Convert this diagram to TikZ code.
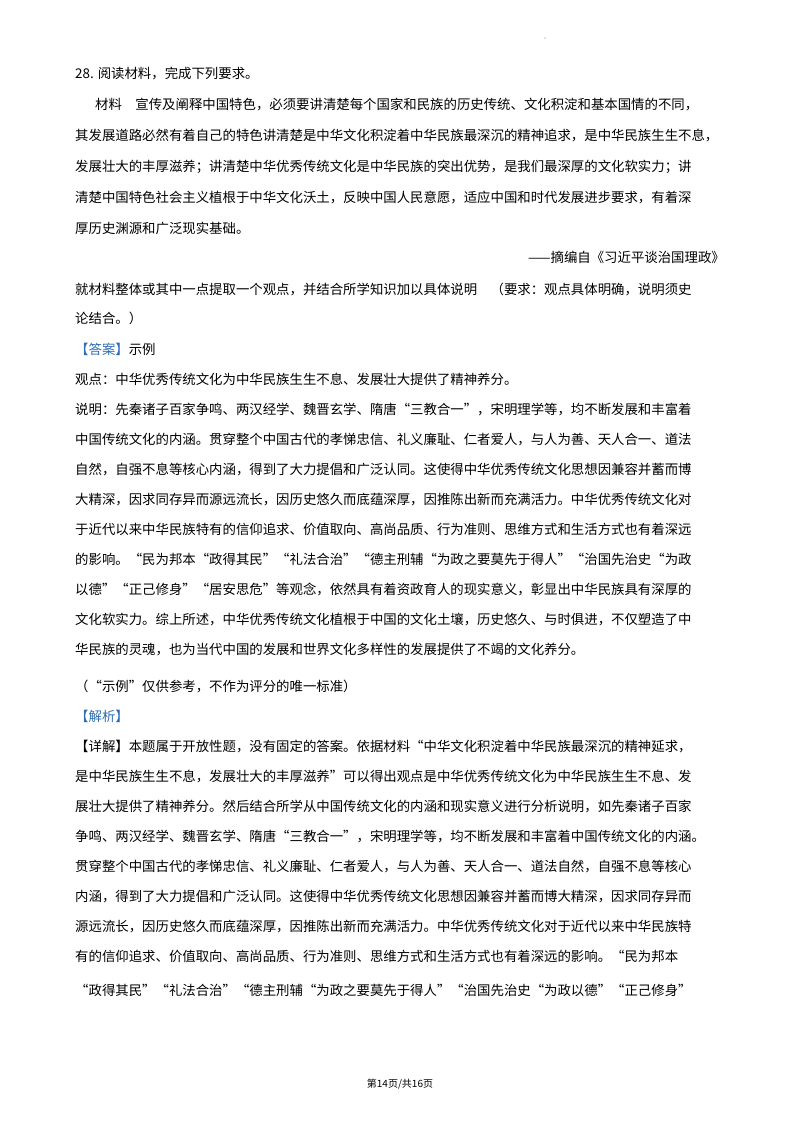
\documentclass[tikz,border=0pt]{standalone}
\usepackage{fontspec}
\setmainfont{Noto Sans CJK SC}
\XeTeXlinebreaklocale "zh"
\XeTeXlinebreakskip=0pt plus 3pt minus 0.6pt
\definecolor{ansblue}{HTML}{2E6DB4}
\tikzset{ln/.style={anchor=base west,inner sep=0pt,font=\fontsize{13.4pt}{16pt}\selectfont}}
\newcommand{\J}[4][650]{\node[ln] (#2) at (#3) {\makebox[#1pt][s]{#4}};}
\newcommand{\U}[3]{\node[ln] (#1) at (#2) {#3};}
\begin{document}
\begin{tikzpicture}[x=1pt,y=-1pt]
\useasboundingbox (0,0) rectangle (800,1132);
\fill[gray] (545,38) circle (0.6);
\U{l1}{75,78}{28. 阅读材料，完成下列要求。}
\J[630]{m1}{95,109}{材料\hspace{1em}宣传及阐释中国特色，必须要讲清楚每个国家和民族的历史传统、文化积淀和基本国情的不同，}
\J{m2}{75,140}{其发展道路必然有着自己的特色讲清楚是中华文化积淀着中华民族最深沉的精神追求，是中华民族生生不息，}
\J{m3}{75,171}{发展壮大的丰厚滋养；讲清楚中华优秀传统文化是中华民族的突出优势，是我们最深厚的文化软实力；讲}
\J{m4}{75,202}{清楚中国特色社会主义植根于中华文化沃土，反映中国人民意愿，适应中国和时代发展进步要求，有着深}
\U{m5}{75,233}{厚历史渊源和广泛现实基础。}
\node[ln,anchor=base east] (src) at (725,262) {——摘编自《习近平谈治国理政》};
\J{q1}{75,294}{就材料整体或其中一点提取一个观点，并结合所学知识加以具体说明\hspace{1em}（要求：观点具体明确，说明须史}
\U{q2}{75,323}{论结合。）}
\U{a0}{75,354}{\textcolor{ansblue}{【答案】}示例}
\U{a1}{75,384}{观点：中华优秀传统文化为中华民族生生不息、发展壮大提供了精神养分。}
\J{b1}{75,414}{说明：先秦诸子百家争鸣、两汉经学、魏晋玄学、隋唐“三教合一”，宋明理学等，均不断发展和丰富着}
\J{b2}{75,444}{中国传统文化的内涵。贯穿整个中国古代的孝悌忠信、礼义廉耻、仁者爱人，与人为善、天人合一、道法}
\J{b3}{75,474}{自然，自强不息等核心内涵，得到了大力提倡和广泛认同。这使得中华优秀传统文化思想因兼容并蓄而博}
\J{b4}{75,504}{大精深，因求同存异而源远流长，因历史悠久而底蕴深厚，因推陈出新而充满活力。中华优秀传统文化对}
\J{b5}{75,534}{于近代以来中华民族特有的信仰追求、价值取向、高尚品质、行为准则、思维方式和生活方式也有着深远}
\J{b6}{75,564}{的影响。“民为邦本“政得其民”“礼法合治”“德主刑辅“为政之要莫先于得人”“治国先治史“为政}
\J{b7}{75,594}{以德”“正己修身”“居安思危”等观念，依然具有着资政育人的现实意义，彰显出中华民族具有深厚的}
\J{b8}{75,624}{文化软实力。综上所述，中华优秀传统文化植根于中国的文化土壤，历史悠久、与时俱进，不仅塑造了中}
\U{b9}{75,654}{华民族的灵魂，也为当代中国的发展和世界文化多样性的发展提供了不竭的文化养分。}
\U{c1}{75,691}{（“示例”仅供参考，不作为评分的唯一标准）}
\U{c2}{75,721}{\textcolor{ansblue}{【解析】}}
\J{d1}{75,751}{【详解】本题属于开放性题，没有固定的答案。依据材料“中华文化积淀着中华民族最深沉的精神延求，}
\J{d2}{75,781}{是中华民族生生不息，发展壮大的丰厚滋养”可以得出观点是中华优秀传统文化为中华民族生生不息、发}
\J{d3}{75,811}{展壮大提供了精神养分。然后结合所学从中国传统文化的内涵和现实意义进行分析说明，如先秦诸子百家}
\J{d4}{75,841}{争鸣、两汉经学、魏晋玄学、隋唐“三教合一”，宋明理学等，均不断发展和丰富着中国传统文化的内涵。}
\J{d5}{75,871}{贯穿整个中国古代的孝悌忠信、礼义廉耻、仁者爱人，与人为善、天人合一、道法自然，自强不息等核心}
\J{d6}{75,901}{内涵，得到了大力提倡和广泛认同。这使得中华优秀传统文化思想因兼容并蓄而博大精深，因求同存异而}
\J{d7}{75,931}{源远流长，因历史悠久而底蕴深厚，因推陈出新而充满活力。中华优秀传统文化对于近代以来中华民族特}
\J{d8}{75,961}{有的信仰追求、价值取向、高尚品质、行为准则、思维方式和生活方式也有着深远的影响。“民为邦本}
\J{d9}{75,995}{“政得其民”“礼法合治”“德主刑辅“为政之要莫先于得人”“治国先治史“为政以德”“正己修身”}
\node[anchor=base,inner sep=0pt,font=\fontsize{10pt}{12pt}\selectfont] (foot) at (400,1087) {第14页/共16页};
\end{tikzpicture}
\end{document}
